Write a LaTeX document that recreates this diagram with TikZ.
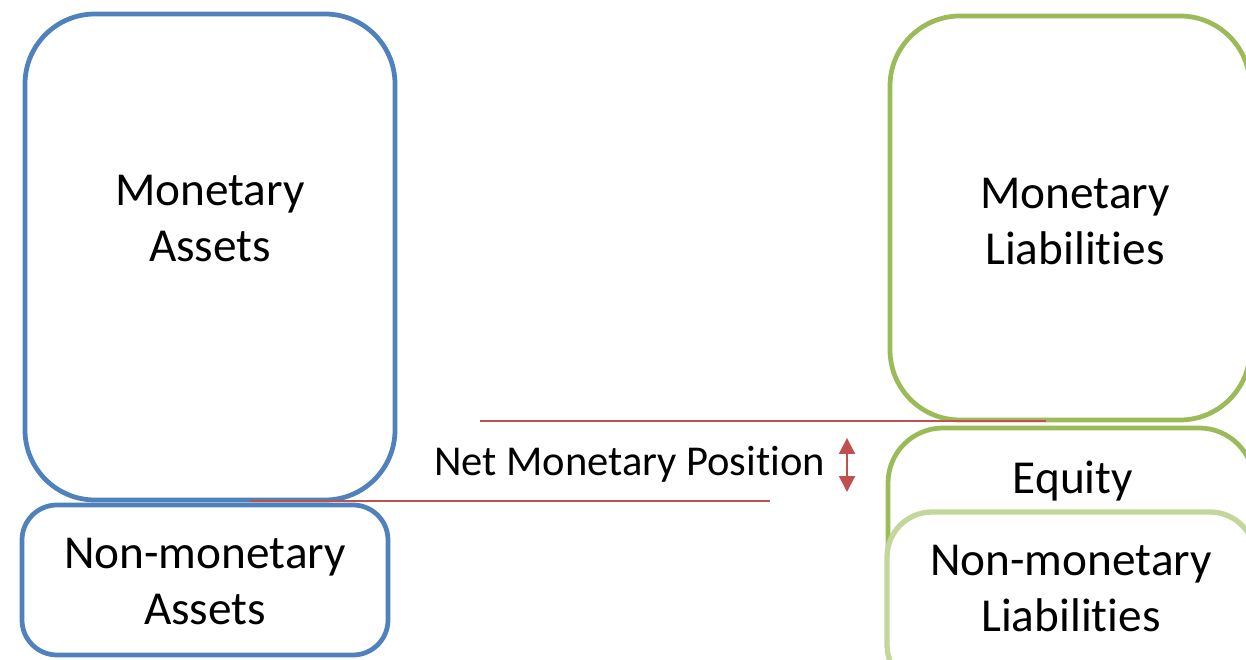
\documentclass[tikz,border=0pt]{standalone}
\usepackage{fontspec}
\setmainfont{Carlito}[Ligatures=NoCommon]
\usetikzlibrary{arrows.meta, positioning}

\definecolor{assetblue}{HTML}{4F81BD}
\definecolor{liabgreen}{HTML}{9BBB59}
\definecolor{lightgreen}{HTML}{C3D69B}
\definecolor{netred}{HTML}{C0504D}

\begin{document}
\begin{tikzpicture}[
    block/.style={
        rectangle,
        draw,
        line width=2.7pt,
        fill=white,
        inner sep=0pt,
    },
    caption/.style={
        font=\fontsize{26.9}{32.3}\selectfont,
        align=center,
        anchor=base,
        inner sep=0pt,
    },
    netline/.style={
        netred,
        line width=1.1pt,
    },
    netarrow/.style={
        netred,
        line width=1.2pt,
        {Triangle[width=9pt,length=9pt]}-{Triangle[width=9pt,length=9pt]},
    }
]
    \useasboundingbox (0,0) rectangle (24.92,13.2);
    \clip (0,0) rectangle (24.92,13.2);

    % Assets side
    \node[block, draw=assetblue, rounded corners=1.4cm,
          minimum width=7.4cm, minimum height=9.72cm] (monAssets) at (4.2,8.06) {};
    \node[block, draw=assetblue, rounded corners=0.7cm,
          minimum width=7.32cm, minimum height=3.0cm] (nonAssets) at (4.1,1.6) {};

    % Liabilities side
    \node[block, draw=liabgreen, rounded corners=1.4cm,
          minimum width=7.2cm, minimum height=8.08cm] (monLiab) at (21.4,8.84) {};
    \node[block, draw=liabgreen, rounded corners=1.1cm,
          minimum width=7.32cm, minimum height=4.24cm] (equity) at (21.42,2.52) {};
    \node[block, draw=lightgreen, line width=3pt, rounded corners=0.9cm,
          minimum width=7.36cm, minimum height=3.56cm] (nonLiab) at (21.42,1.18) {};

    % Captions (base = last line)
    \node[caption] (monAssetsText) at (4.2,7.96) {Monetary\\Assets};
    \node[caption] (nonAssetsText) at (4.1,0.7) {Non-monetary\\Assets};
    \node[caption] (monLiabText) at (21.5,7.9) {Monetary\\Liabilities};
    \node[caption] (equityText) at (21.46,3.32) {Equity};
    \node[caption] (nonLiabText) at (21.42,0.56) {Non-monetary\\Liabilities};

    % Net monetary position
    \coordinate (upperL) at (9.6,4.78);
    \coordinate (upperR) at (20.92,4.78);
    \coordinate (lowerL) at (5.0,3.18);
    \coordinate (lowerR) at (15.4,3.18);
    \draw[netline] (upperL) -- (upperR);
    \draw[netline] (lowerL) -- (lowerR);

    \node[caption, font=\fontsize{24.2}{29}\selectfont] (netText) at (12.59,3.68) {Net Monetary Position};
    \coordinate (arrowTop) at (16.94,4.44);
    \coordinate (arrowBot) at (16.94,3.36);
    \draw[netarrow] (arrowBot) -- (arrowTop);
\end{tikzpicture}
\end{document}
